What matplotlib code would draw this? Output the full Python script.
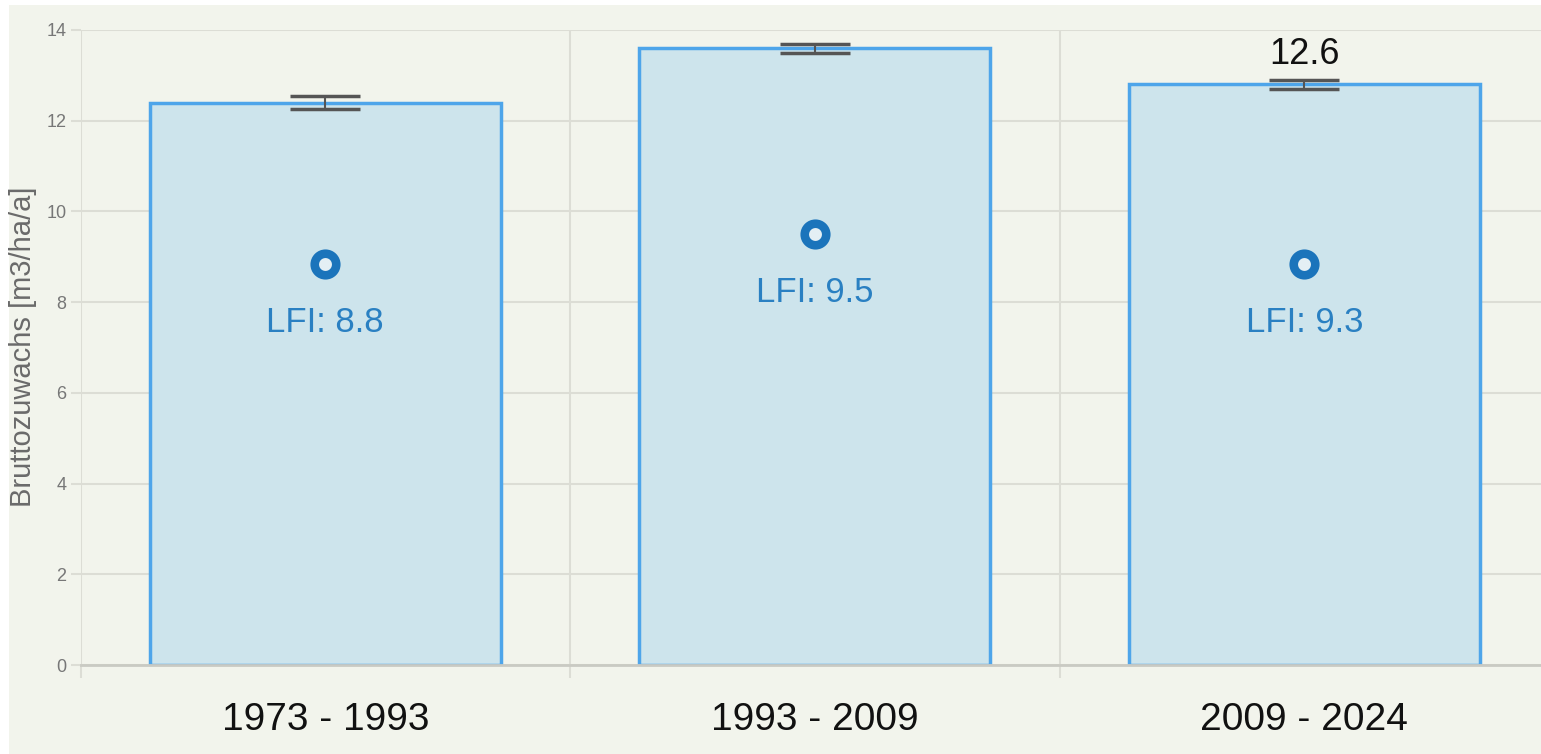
import matplotlib
matplotlib.use("Agg")
import matplotlib.pyplot as plt
from matplotlib.patches import Rectangle
import numpy as np

# ---- data ----
categories = ["1973 - 1993", "1993 - 2009", "2009 - 2024"]
values = [12.4, 13.6, 12.8]
errors = [0.15, 0.1, 0.09]
lfi_points = [8.85, 9.5, 8.85]
lfi_labels = ["LFI: 8.8", "LFI: 9.5", "LFI: 9.3"]
top_label_index = 2
top_label_text = "12.6"
y_ticks = [0, 2, 4, 6, 8, 10, 12, 14]
y_label = "Bruttozuwachs [m3/ha/a]"

# ---- style ----
BG = "#f2f4ec"
BAR_FILL = "#cde4ec"
BAR_EDGE = "#4ea5ea"
MARK = "#1b74bb"
LFI_TXT = "#2a80c2"
GRID = "#dcddd5"
FONT = ["Liberation Sans", "DejaVu Sans"]

W, H = 1541, 754
fig = plt.figure(figsize=(W / 100, H / 100), dpi=100, facecolor="white")
fig.patches.append(Rectangle((9 / W, 0), 1, (H - 5) / H, transform=fig.transFigure,
                             facecolor=BG, edgecolor="none", zorder=-10))

ax = fig.add_axes([80.5 / W, 1 - 665 / H, (1549 - 80.5) / W, (665 - 30) / H])
ax.set_facecolor(BG)

x = np.arange(len(categories))
ax.bar(x, values, width=0.717, color=BAR_FILL, edgecolor=BAR_EDGE, linewidth=2.5, zorder=2)
ax.errorbar(x, values, yerr=errors, fmt="none", ecolor="#555555", elinewidth=1.5,
            capsize=25, capthick=2.5, zorder=3)
ax.plot(x, lfi_points, linestyle="none", marker="o", markersize=15.5, markeredgewidth=6.2,
        markeredgecolor=MARK, markerfacecolor="#e4eff4", zorder=4)

for xi, yp, lab in zip(x, lfi_points, lfi_labels):
    ax.annotate(lab, (xi, yp), xytext=(0, -49), textcoords="offset points",
                ha="center", va="baseline", fontsize=25, family=FONT,
                color=LFI_TXT, zorder=5)

ax.annotate(top_label_text, (x[top_label_index], values[top_label_index] + errors[top_label_index]),
            xytext=(0, 12), textcoords="offset points", ha="center", va="baseline",
            fontsize=26, family=FONT, color="#111111", zorder=5)

ax.set_xlim(-0.5, len(categories) - 0.5)
ax.set_ylim(0, 14)

ax.set_yticks(y_ticks)
ax.set_yticklabels([str(t) for t in y_ticks], family=FONT, fontsize=13, color="#777777")
ax.tick_params(axis="y", length=7.2, width=1.5, color=GRID, pad=3)

ax.set_xticks(x)
ax.set_xticklabels(categories, family=FONT, fontsize=28, color="#111111")
ax.tick_params(axis="x", which="major", length=0, pad=27)
ax.set_xticks(np.arange(-0.5, len(categories), 1.0), minor=True)
ax.tick_params(axis="x", which="minor", length=9.4, width=1.5, color=GRID)

ax.grid(axis="y", which="major", color=GRID, linewidth=1.5, zorder=1)
ax.grid(axis="x", which="minor", color=GRID, linewidth=1.5, zorder=1)
ax.set_axisbelow(True)

for s in ["top", "right", "left"]:
    ax.spines[s].set_visible(False)
ax.spines["bottom"].set_color("#c9cac3")
ax.spines["bottom"].set_linewidth(2)

fig.text(23.5 / W, 1 - 347 / H, y_label, rotation=90, ha="center", va="center",
         fontsize=21, family=FONT, color="#6a6a6a")

fig.savefig("out.png", dpi=100, facecolor="white")
